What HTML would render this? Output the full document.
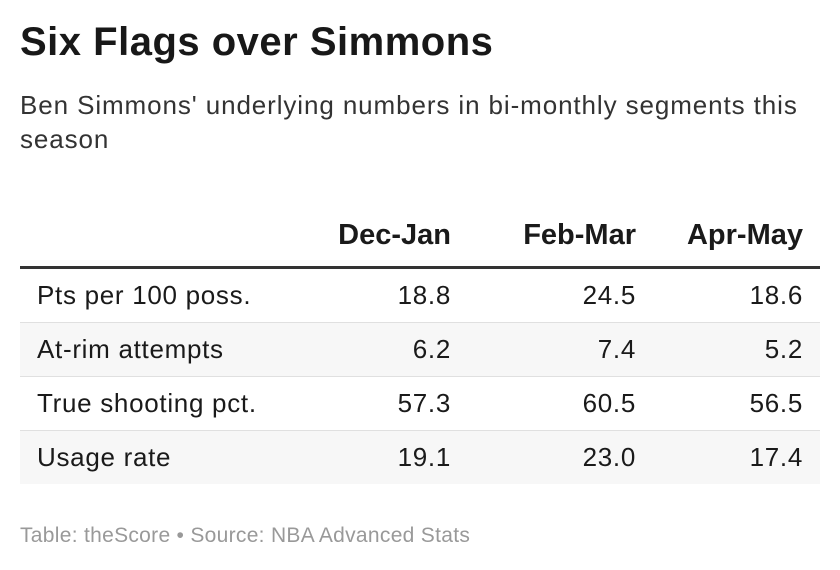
<!DOCTYPE html>
<html><head><style>
body{margin:0;width:840px;height:570px;background:#fff;font-family:"Liberation Sans",sans-serif;color:#1a1a1a;position:relative;overflow:hidden}
.t{position:absolute;left:20px;top:20px;font-size:40px;font-weight:bold;color:#181818;letter-spacing:0.5px}
.s{position:absolute;left:20px;top:88px;font-size:26px;line-height:34px;color:#333;width:805px;letter-spacing:0.9px}
table{position:absolute;left:20px;top:205px;width:800px;border-collapse:collapse;font-size:26px;table-layout:fixed;letter-spacing:0.7px}
th{font-size:29px;font-weight:bold;text-align:right;height:61px;padding:0 17px 0 0;vertical-align:middle;border-bottom:3px solid #333;letter-spacing:0}
td{height:53px;padding:0 17px;text-align:right;border-bottom:1px solid #e0e0e0}
td:first-child{text-align:left}
tr:nth-child(odd) td{background:#f7f7f7}
tr:last-child td{border-bottom:none}
.f{position:absolute;left:20px;top:524px;font-size:21px;color:#999;letter-spacing:0.3px}
</style></head><body>
<div class="t">Six Flags over Simmons</div>
<div class="s">Ben Simmons' underlying numbers in bi-monthly segments this season</div>
<table>
<colgroup><col style="width:263px"><col style="width:185px"><col style="width:185px"><col style="width:167px"></colgroup>
<tr><th></th><th>Dec-Jan</th><th>Feb-Mar</th><th>Apr-May</th></tr>
<tr><td>Pts per 100 poss.</td><td>18.8</td><td>24.5</td><td>18.6</td></tr>
<tr><td>At-rim attempts</td><td>6.2</td><td>7.4</td><td>5.2</td></tr>
<tr><td>True shooting pct.</td><td>57.3</td><td>60.5</td><td>56.5</td></tr>
<tr><td>Usage rate</td><td>19.1</td><td>23.0</td><td>17.4</td></tr>
</table>
<div class="f">Table: theScore • Source: NBA Advanced Stats</div>
</body></html>
